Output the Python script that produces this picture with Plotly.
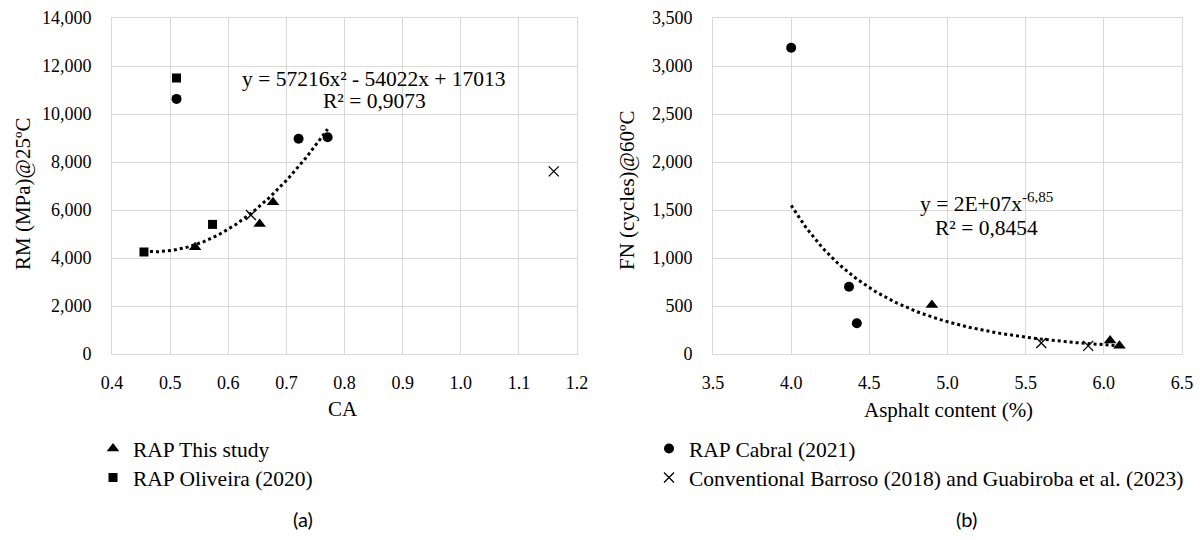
import numpy as np
import plotly.graph_objects as go

# page body has an 8px margin, so the figure is drawn 8px in from the window edge
OFF = 8
W, H = 1203 - 2 * OFF, 540 - 2 * OFF

# ---------------- data ----------------
# Panel (a): CA vs RM (MPa) @25ºC
a_this_x = [0.543, 0.654, 0.677]
a_this_y = [4450, 5420, 6320]
a_oliv_x = [0.455, 0.511, 0.573]
a_oliv_y = [4250, 11500, 5400]
a_cabral_x = [0.511, 0.721, 0.771]
a_cabral_y = [10630, 8970, 9030]
a_conv_x = [0.639, 1.160]
a_conv_y = [5790, 7610]

# Panel (b): Asphalt content (%) vs FN (cycles) @60ºC
b_this_x = [4.90, 6.04, 6.10]
b_this_y = [510, 140, 85]
b_cabral_x = [4.00, 4.37, 4.42]
b_cabral_y = [3190, 700, 320]
b_conv_x = [5.60, 5.90]
b_conv_y = [115, 85]

# trend lines (from the equations printed on the chart)
fit_a_coef = [57216, -54022, 17013]   # y = 57216x² - 54022x + 17013
fit_a_range = [0.455, 0.771]
fit_b_coef = 2.06e7                     # y = 2E+07 x^-6,85
fit_b_exp = -6.85
fit_b_range = [4.0, 6.1]

series_names = ["RAP This study", "RAP Oliveira (2020)", "RAP Cabral (2021)",
                "Conventional Barroso (2018) and Guabiroba et al. (2023)"]
eq_a_lines = ["y = 57216x² - 54022x + 17013", "R² = 0,9073"]
eq_b_lines = ["y = 2E+07x<sup>-6,85</sup>", "R² = 0,8454"]

# ---------------- helpers ----------------
def px(x):
    return (x - OFF) / W

def py(y):
    return 1 - (y - OFF) / H

SERIF = "Liberation Serif"
GRID = "#d9d9d9"

fig = go.Figure()

tri = dict(symbol="triangle-up", size=11, color="black")
sq = dict(symbol="square", size=9, color="black")
circ = dict(symbol="circle", size=10, color="black")
xm = dict(symbol="x-thin-open", size=10, color="black", line=dict(color="black", width=1.3))

# trend lines
xa = np.linspace(fit_a_range[0], fit_a_range[1], 100)
ya = np.polyval(fit_a_coef, xa)
fig.add_trace(go.Scatter(x=xa, y=ya, mode="lines", line=dict(color="black", width=3, dash="dot"),
                         showlegend=False, xaxis="x", yaxis="y", hoverinfo="skip"))
xb = np.linspace(fit_b_range[0], fit_b_range[1], 100)
yb = fit_b_coef * xb ** fit_b_exp
fig.add_trace(go.Scatter(x=xb, y=yb, mode="lines", line=dict(color="black", width=3, dash="dot"),
                         showlegend=False, xaxis="x2", yaxis="y2", hoverinfo="skip"))

# panel a markers (each series owns one legend box)
fig.add_trace(go.Scatter(x=a_this_x, y=a_this_y, mode="markers", marker=tri, name=series_names[0],
                         legend="legend", showlegend=True, xaxis="x", yaxis="y"))
fig.add_trace(go.Scatter(x=a_oliv_x, y=a_oliv_y, mode="markers", marker=sq, name=series_names[1],
                         legend="legend2", showlegend=True, xaxis="x", yaxis="y"))
fig.add_trace(go.Scatter(x=a_cabral_x, y=a_cabral_y, mode="markers", marker=circ, name=series_names[2],
                         legend="legend3", showlegend=True, xaxis="x", yaxis="y"))
fig.add_trace(go.Scatter(x=a_conv_x, y=a_conv_y, mode="markers", marker=xm, name=series_names[3],
                         legend="legend4", showlegend=True, xaxis="x", yaxis="y"))
# panel b markers
fig.add_trace(go.Scatter(x=b_this_x, y=b_this_y, mode="markers", marker=tri, name=series_names[0],
                         showlegend=False, xaxis="x2", yaxis="y2"))
fig.add_trace(go.Scatter(x=b_cabral_x, y=b_cabral_y, mode="markers", marker=circ, name=series_names[2],
                         showlegend=False, xaxis="x2", yaxis="y2"))
fig.add_trace(go.Scatter(x=b_conv_x, y=b_conv_y, mode="markers", marker=xm, name=series_names[3],
                         showlegend=False, xaxis="x2", yaxis="y2"))

axis_common = dict(showgrid=True, gridcolor=GRID, gridwidth=1, showline=True, linecolor=GRID,
                   linewidth=1, mirror=True, zeroline=False, ticks="", automargin=False,
                   tickfont=dict(family=SERIF, size=18, color="black"))

ydom = [py(354), py(18)]
leg_font = dict(family=SERIF, size=21.5, color="black")


def leg(xp, row_center):
    return dict(x=px(xp), y=py(row_center - 23), xanchor="left", yanchor="top",
                bgcolor="rgba(0,0,0,0)", font=leg_font)


fig.update_layout(
    template="none",
    width=W, height=H,
    margin=dict(l=0, r=0, t=0, b=0, autoexpand=False),
    paper_bgcolor="white", plot_bgcolor="white",
    font=dict(family=SERIF, color="black"),
    xaxis=dict(domain=[px(112), px(577)], range=[0.4, 1.2], dtick=0.1, tick0=0.4,
               tickformat=".1f", ticklabelstandoff=12, anchor="y", **axis_common),
    yaxis=dict(domain=ydom, range=[0, 14000], dtick=2000, tickformat=",d",
               ticklabelstandoff=16, anchor="x", **axis_common),
    xaxis2=dict(domain=[px(713), px(1182)], range=[3.5, 6.5], dtick=0.5, tick0=3.5,
                tickformat=".1f", ticklabelstandoff=12, anchor="y2", **axis_common),
    yaxis2=dict(domain=ydom, range=[0, 3500], dtick=500, tickformat=",d",
                ticklabelstandoff=16, anchor="x2", **axis_common),
    legend=leg(93, 451),
    legend2=leg(93, 480),
    legend3=leg(649, 451),
    legend4=leg(649, 480),
    showlegend=True,
)

# white boxes behind the equations (above gridlines, below data)
fig.add_shape(type="rect", xref="paper", yref="paper", x0=px(238), x1=px(511), y0=py(115), y1=py(63),
              fillcolor="white", line=dict(width=0), layer="between")
fig.add_shape(type="rect", xref="paper", yref="paper", x0=px(914), x1=px(1057), y0=py(238), y1=py(186),
              fillcolor="white", line=dict(width=0), layer="between")

eq_font = dict(family=SERIF, size=21.5, color="black")
for txt, (cx, cy) in zip(eq_a_lines, [(374, 79), (374, 101)]):
    fig.add_annotation(x=px(cx), y=py(cy), xref="paper", yref="paper", text=txt, showarrow=False,
                       xanchor="center", yanchor="middle", font=eq_font)
for txt, (cx, cy) in zip(eq_b_lines, [(986, 202), (986, 228)]):
    fig.add_annotation(x=px(cx), y=py(cy), xref="paper", yref="paper", text=txt, showarrow=False,
                       xanchor="center", yanchor="middle", font=eq_font)

# axis titles
title_font = dict(family=SERIF, size=21, color="black")
fig.add_annotation(x=px(23), y=py(194), xref="paper", yref="paper", text="RM (MPa)@25ºC",
                   textangle=-90, showarrow=False, xanchor="center", yanchor="middle", font=title_font)
fig.add_annotation(x=px(627), y=py(190), xref="paper", yref="paper", text="FN (cycles)@60ºC",
                   textangle=-90, showarrow=False, xanchor="center", yanchor="middle", font=title_font)
fig.add_annotation(x=px(343), y=py(409), xref="paper", yref="paper", text="CA",
                   showarrow=False, xanchor="center", yanchor="middle", font=title_font)
fig.add_annotation(x=px(948), y=py(410), xref="paper", yref="paper", text="Asphalt content (%)",
                   showarrow=False, xanchor="center", yanchor="middle", font=title_font)
# panel labels
panel_font = dict(family="Lato", size=20, color="black")
fig.add_annotation(x=px(303), y=0, xref="paper", yref="paper", text="(a)",
                   showarrow=False, xanchor="center", yanchor="bottom", font=panel_font, borderpad=0)
fig.add_annotation(x=px(966), y=0, xref="paper", yref="paper", text="(b)",
                   showarrow=False, xanchor="center", yanchor="bottom", font=panel_font, borderpad=0)

fig.write_html("out.html")
